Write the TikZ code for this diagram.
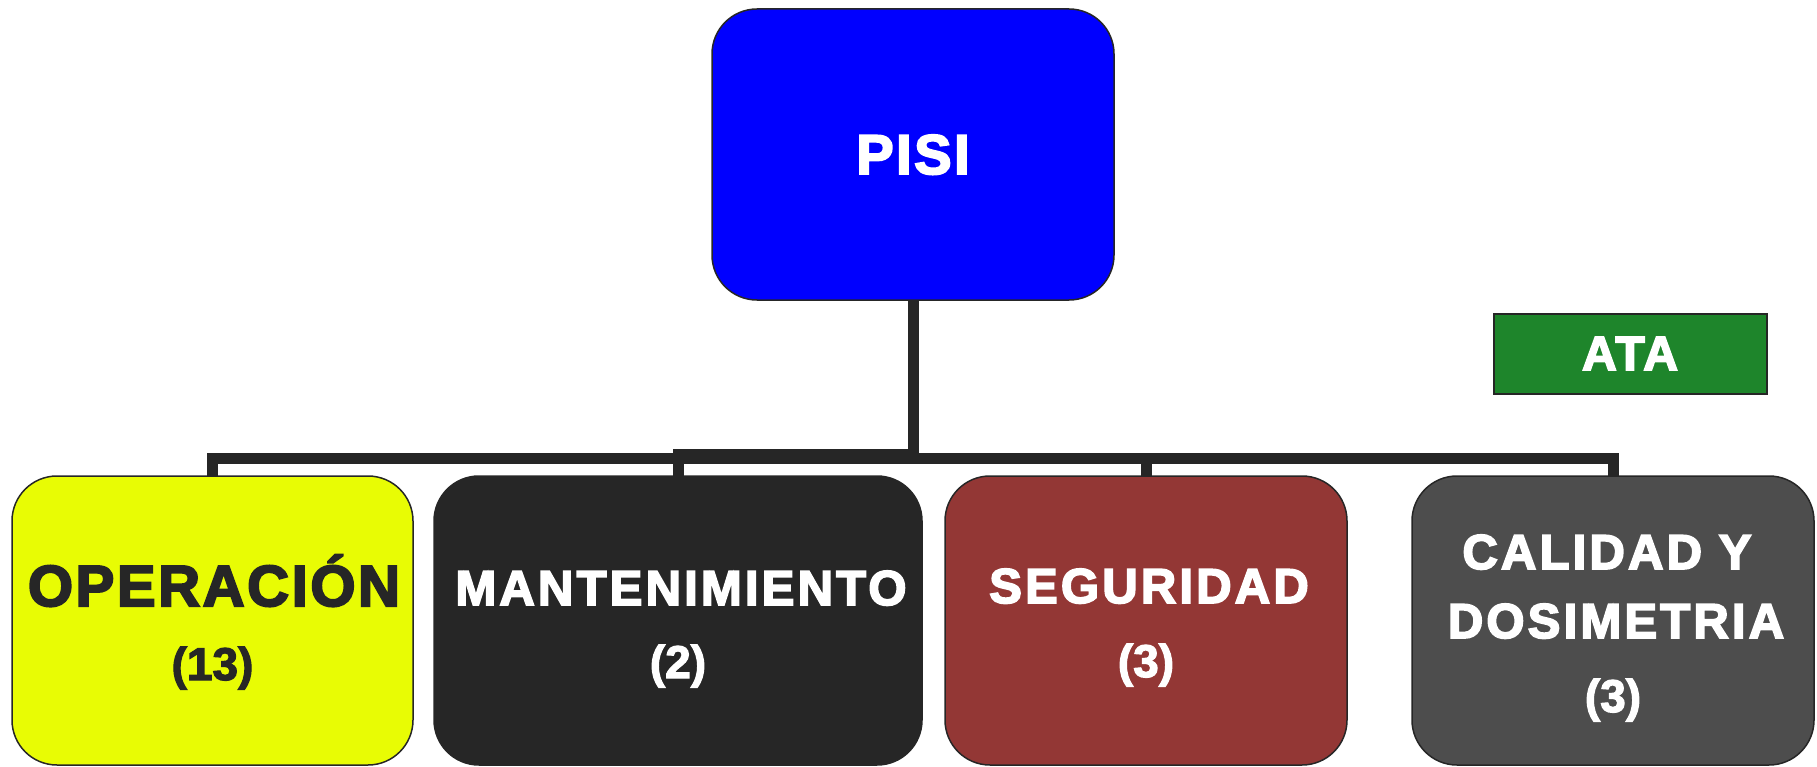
\documentclass[tikz,border=0pt]{standalone}
\usepackage{fontspec}
\setmainfont{Liberation Sans}
\newfontfamily\heavy[FakeBold=3.5,LetterSpace=4.5]{Liberation Sans Bold}
\newfontfamily\heavysub[FakeBold=3.5,LetterSpace=6.5]{Liberation Sans Bold}
\newfontfamily\numf[FakeBold=2.5]{Liberation Sans Bold}
\definecolor{cblue}{HTML}{0000FF}
\definecolor{cyel}{HTML}{E8FC04}
\definecolor{cdark}{HTML}{262626}
\definecolor{cred}{HTML}{933735}
\definecolor{cgray}{HTML}{4D4D4D}
\definecolor{cgreen}{HTML}{1E852B}
\tikzset{
  orgbox/.style={draw=cdark, line width=1.5pt, rounded corners=45pt, outer sep=0pt, inner sep=0pt, align=center},
  conn/.style={draw=cdark, line width=11pt, line join=miter},
  lbl/.style={font=\heavy\fontsize{58}{68}\selectfont},
  sub/.style={font=\heavysub\fontsize{49}{55}\selectfont},
  num/.style={font=\numf\fontsize{46}{50}\selectfont}
}
\begin{document}
\begin{tikzpicture}[x=1pt,y=-1pt]
\useasboundingbox (0,0) rectangle (1817,767);
\node[orgbox, fill=cblue, minimum width=402, minimum height=291] (pisi) at (913,154.5) {};
\node[text=white, font=\heavy\fontsize{56}{60}\selectfont, anchor=base] (pisit) at (913,174) {PISI};
\node[draw=cdark, line width=1.5pt, fill=cgreen, minimum width=273, minimum height=80, outer sep=0pt, inner sep=0pt] (ata) at (1630.5,354) {};
\node[text=white, font=\heavy\fontsize{48}{50}\selectfont, anchor=base] (atat) at (1630,370) {ATA};
\node[orgbox, fill=cyel, minimum width=401, minimum height=289] (op) at (212.5,620.5) {};
\node[orgbox, fill=cdark, minimum width=488, minimum height=289] (mant) at (678,620.5) {};
\node[orgbox, fill=cred, minimum width=402, minimum height=289] (seg) at (1146,620.5) {};
\node[orgbox, fill=cgray, minimum width=402, minimum height=289] (cal) at (1613,620.5) {};
% labels
\node[lbl, text=cdark, anchor=base] (opt) at (214,606) {OPERACIÓN};
\node[num, text=cdark, anchor=base] (opn) at (212.5,680) {(13)};
\node[sub, text=white, anchor=base] (mantt) at (681,605) {MANTENIMIENTO};
\node[num, text=white, anchor=base] (mantn) at (678,678) {(2)};
\node[sub, text=white, anchor=base] (segt) at (1149,603) {SEGURIDAD};
\node[num, text=white, anchor=base] (segn) at (1146,677) {(3)};
\node[sub, text=white, anchor=base] (calt1) at (1607,569) {CALIDAD Y};
\node[sub, text=white, anchor=base] (calt2) at (1616,638) {DOSIMETRIA};
\node[num, text=white, anchor=base] (caln) at (1613,712) {(3)};
% connectors
\coordinate (j) at (913,458.5);
\coordinate (j2) at (913,454.5);
\draw[conn] (pisi.south) -- (j) -| (op.north);
\draw[conn] (j2) -| (mant.north);
\draw[conn] (j) -| (seg.north);
\draw[conn] (j) -| (cal.north);
\end{tikzpicture}
\end{document}
